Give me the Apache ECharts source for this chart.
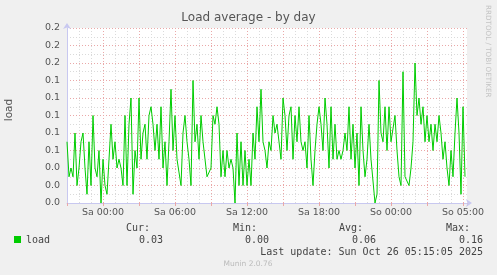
<!DOCTYPE html>
<html>
<head>
<meta charset="utf-8">
<script src="https://cdn.jsdelivr.net/npm/echarts@6/dist/echarts.min.js"></script>
<style>
html,body{margin:0;padding:0;background:#f0f0f0;}
#chart{width:497px;height:275px;}
</style>
</head>
<body>
<div id="chart"></div>
<script>
// ---- data ----
const chartTitle = 'Load average - by day';
const yAxisName = 'load';
const seriesName = 'load';
const xTickHours = [0, 6, 12, 18, 24, 30];
const xTickLabels = ['Sa 00:00', 'Sa 06:00', 'Sa 12:00', 'Sa 18:00', 'So 00:00', 'So 05:00'];
const yTickLabels = ['0.0', '0.0', '0.0', '0.1', '0.1', '0.1', '0.1', '0.1', '0.2', '0.2', '0.2'];
const startHour = -3;          // first sample, hours relative to Sa 00:00
const stepHours = 1 / 6;       // sample spacing (10 min)
const loadValues = [
  0.07,0.03,0.04,0.03,0.08,0.02,0.04,0.07,0.08,0.04,0.01,0.07,0.02,0.10,0.04,0.03,0.06,0.00,0.05,0.02,0.01,0.05,0.09,0.05,0.07,0.04,
  0.05,0.04,0.02,0.10,0.02,0.09,0.12,0.01,0.06,0.04,0.12,0.05,0.08,0.09,0.05,0.10,0.11,0.09,0.06,0.09,0.05,0.11,0.04,0.07,0.02,
  0.07,0.13,0.06,0.10,0.05,0.05,0.02,0.08,0.10,0.07,0.05,0.02,0.14,0.07,0.09,0.05,0.10,0.07,0.05,0.03,0.03,0.04,0.10,0.09,0.11,
  0.09,0.03,0.06,0.03,0.06,0.04,0.05,0.04,0.00,0.08,0.02,0.07,0.02,0.06,0.02,0.05,0.02,0.08,0.05,0.11,0.07,0.13,0.07,0.06,0.04,
  0.07,0.06,0.10,0.08,0.09,0.09,0.05,0.12,0.10,0.06,0.10,0.11,0.05,0.10,0.07,0.11,0.07,0.06,0.07,0.04,0.10,0.05,0.02,0.06,0.09,
  0.11,0.09,0.06,0.12,0.09,0.04,0.11,0.05,0.09,0.05,0.06,0.05,0.06,0.08,0.06,0.11,0.05,0.09,0.04,0.08,0.02,0.11,0.06,0.03,0.05,
  0.09,0.05,0.05,0.00,0.01,0.14,0.08,0.07,0.11,0.06,0.11,0.07,0.07,0.10,0.06,0.03,0.02,0.15,0.03,0.03,0.02,0.04,0.07,0.16,0.10,
  0.12,0.09,0.11,0.07,0.10,0.07,0.09,0.06,0.09,0.07,0.10,0.08,0.05,0.07,0.04,0.02,0.06,0.03,0.08,0.12,0.08,0.01,0.11,0.03
];
const legendHeaders = ['Cur:', 'Min:', 'Avg:', 'Max:'];
const legendValues = ['0.03', '0.00', '0.06', '0.16'];
const lastUpdate = 'Last update: Sun Oct 26 05:15:05 2025';
const footer = 'Munin 2.0.76';
const sideText = 'RRDTOOL / TOBI OETIKER';

// ---- chart ----
const chart = echarts.init(document.getElementById('chart'), null, {renderer: 'canvas'});
const red = '#eaa8a8';
const gray = '#dadada';
const axisBlue = '#c8c8f0';
const dot = [1, 2];
const sans = 'DejaVu Sans';

const headerRight = [150, 257, 363, 470];
const valueRight = [163, 269, 376, 483];

const graphics = [
  {type: 'text', left: 'center', top: 12, style: {text: chartTitle, font: '12px "DejaVu Sans"', fill: '#555'}},
  {type: 'text', x: 4, y: 110, rotation: Math.PI / 2,
   style: {text: yAxisName, font: '10.5px "DejaVu Sans"', fill: '#555', textAlign: 'center', textVerticalAlign: 'top'}},
  {type: 'text', x: 484, y: 5, rotation: -Math.PI / 2,
   style: {text: sideText, font: '7.2px "DejaVu Sans"', fill: '#c4c4c4', textAlign: 'left', textVerticalAlign: 'bottom'}},
  {type: 'rect', shape: {x: 14, y: 236, width: 7, height: 7}, style: {fill: '#00cc00'}},
  {type: 'text', x: 26, y: 240, style: {text: seriesName, font: '10px "DejaVu Sans Mono"', fill: '#444', textVerticalAlign: 'middle'}},
  {type: 'text', x: 483, y: 252, style: {text: lastUpdate, font: '10px "DejaVu Sans Mono"', fill: '#444', textAlign: 'right', textVerticalAlign: 'middle'}},
  {type: 'text', x: 248, y: 264, style: {text: footer, font: '7.5px "DejaVu Sans"', fill: '#bbb', textAlign: 'center', textVerticalAlign: 'middle'}}
];
legendHeaders.forEach((h, i) => {
  graphics.push({type: 'text', x: headerRight[i], y: 228, style: {text: h, font: '10px "DejaVu Sans Mono"', fill: '#444', textAlign: 'right', textVerticalAlign: 'middle'}});
  graphics.push({type: 'text', x: valueRight[i], y: 240, style: {text: legendValues[i], font: '10px "DejaVu Sans Mono"', fill: '#444', textAlign: 'right', textVerticalAlign: 'middle'}});
});

const xMin = -3, xMax = 30 + 1 / 3;

chart.setOption({
  animation: false,
  backgroundColor: '#f0f0f0',
  grid: {left: 67, top: 28, width: 400, height: 175, show: true, backgroundColor: '#ffffff', borderWidth: 0},
  xAxis: [
    {
      type: 'value', min: xMin, max: xMax, interval: 3, z: 3,
      axisLine: {show: true, onZero: false, lineStyle: {color: axisBlue, width: 1}, symbol: ['none', 'arrow'], symbolSize: [6, 6], symbolOffset: [0, 5]},
      axisTick: {show: true, length: 3, lineStyle: {color: red}},
      axisLabel: {
        margin: 5, color: '#555', fontFamily: sans, fontSize: 9.5,
        formatter: function (v) {
          const r = Math.round(v);
          if (Math.abs(v - r) > 1e-6) return '';
          const idx = xTickHours.indexOf(r);
          return idx >= 0 ? xTickLabels[idx] : '';
        }
      },
      splitLine: {show: true, showMinLine: false, showMaxLine: false, lineStyle: {color: red, type: dot, width: 1}}
    },
    {
      type: 'value', min: xMin, max: xMax, interval: 1, z: 1,
      axisLine: {show: false}, axisTick: {show: false}, axisLabel: {show: false},
      splitLine: {show: true, showMinLine: false, showMaxLine: false, lineStyle: {color: gray, type: dot, width: 1}}
    }
  ],
  yAxis: {
    type: 'value', min: 0, max: 0.2, interval: 0.02, z: 2,
    axisLine: {show: true, onZero: false, lineStyle: {color: axisBlue, width: 1}, symbol: ['none', 'arrow'], symbolSize: [6, 6], symbolOffset: [0, 5]},
    axisTick: {show: false},
    axisLabel: {
      margin: 7, color: '#555', fontFamily: sans, fontSize: 9.5,
      formatter: function (v) { return yTickLabels[Math.round(v / 0.02)]; }
    },
    splitLine: {show: true, lineStyle: {color: red, type: dot, width: 1}},
    minorTick: {show: false, splitNumber: 2},
    minorSplitLine: {show: true, lineStyle: {color: gray, type: dot, width: 1}}
  },
  series: [{
    name: seriesName,
    type: 'line',
    xAxisIndex: 0,
    z: 5,
    showSymbol: false,
    symbol: 'none',
    lineStyle: {color: '#00cc00', width: 1},
    itemStyle: {color: '#00cc00'},
    data: loadValues.map((v, i) => [startHour + i * stepHours, v])
  }],
  graphic: graphics
});
</script>
</body>
</html>
